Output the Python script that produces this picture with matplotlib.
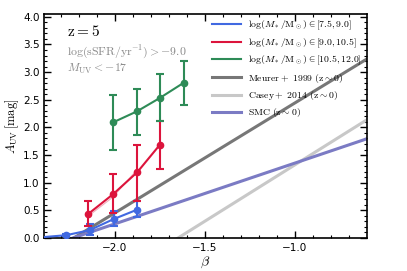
import numpy as np
import matplotlib.pyplot as plt
from matplotlib.lines import Line2D

plt.rcParams['mathtext.fontset'] = 'cm'
plt.rcParams['xtick.direction'] = 'in'
plt.rcParams['ytick.direction'] = 'in'

# binned measurements (beta, A_UV, lower err, upper err)
beta_lo = [-2.45, -2.268, -2.139, -2.006, -1.876]
auv_lo = [0.0, 0.05, 0.14, 0.34, 0.51]
elo_lo = [0.0, 0.02, 0.08, 0.13, 0.14]
ehi_lo = [0.0, 0.03, 0.11, 0.15, 0.15]

beta_mid = [-2.148, -2.009, -1.874, -1.75]
auv_mid = [0.43, 0.79, 1.19, 1.68]
elo_mid = [0.22, 0.33, 0.53, 0.43]
ehi_mid = [0.23, 0.36, 0.50, 0.44]

beta_hi = [-2.009, -1.876, -1.75, -1.615]
auv_hi = [2.09, 2.29, 2.53, 2.81]
elo_hi = [0.50, 0.43, 0.41, 0.40]
ehi_hi = [0.49, 0.41, 0.43, 0.39]

# faint secondary estimate for the middle mass bin
beta_mid2 = [-2.148, -2.009, -1.874]
auv_mid2 = [0.39, 0.74, 1.24]

labels = [r'$\log(M_*/\mathrm{M_\odot})\in[7.5,9.0]$',
          r'$\log(M_*/\mathrm{M_\odot})\in[9.0,10.5]$',
          r'$\log(M_*/\mathrm{M_\odot})\in[10.5,12.0]$',
          r'$\mathrm{Meurer+\ 1999\ (z\sim0)}$',
          r'$\mathrm{Casey+\ 2014\ (z\sim0)}$',
          r'$\mathrm{SMC\ (z\sim0)}$']
colors = ['#4169e1', '#dc143c', '#2e8b57', '#777777', '#c8c8c8', '#7b7bc4']

beta = np.linspace(-3.0, 0.0, 200)
meurer = 4.43 + 1.99 * beta
casey = 3.36 + 2.04 * beta
smc = 1.1 * (beta + 2.23)

fig = plt.figure(figsize=(4.07, 2.71), dpi=100)
ax = fig.add_axes([0.109, 0.122, 0.792, 0.826])

ax.plot(beta_mid2, auv_mid2, color=colors[1], lw=0.8, alpha=0.35)

ax.plot(beta, meurer, color=colors[3], lw=2.2)
ax.plot(beta, casey, color=colors[4], lw=2.2)
ax.plot(beta, smc, color=colors[5], lw=2.2)

for b, a, lo, hi, c in [(beta_lo, auv_lo, elo_lo, ehi_lo, colors[0]),
                        (beta_mid, auv_mid, elo_mid, ehi_mid, colors[1]),
                        (beta_hi, auv_hi, elo_hi, ehi_hi, colors[2])]:
    ax.errorbar(b, a, yerr=[lo, hi], color=c, marker='o', ms=4.5, lw=1.5,
                capsize=3, capthick=1.5, zorder=5)

ax.set_xlim(-2.39, -0.6)
ax.set_ylim(0, 4.05)
ax.set_xticks([-2.0, -1.5, -1.0])
ax.set_yticks(np.arange(0, 4.01, 0.5))
ax.set_xticks(np.arange(-2.3, -0.6, 0.1), minor=True)
ax.set_yticks(np.arange(0, 4.05, 0.1), minor=True)
ax.tick_params(which='both', top=True, right=True, labelsize=7.5)
ax.tick_params(which='major', length=5, width=1)
ax.tick_params(which='minor', length=2.5, width=0.8)
for s in ax.spines.values():
    s.set_linewidth(1.2)

ax.set_xlabel(r'$\beta$', fontsize=10, labelpad=1)
ax.set_ylabel(r'$A_{\rm UV}\,[\rm mag]$', fontsize=9, labelpad=1)

ax.text(0.07, 0.9, r'$\mathrm{z=5}$', transform=ax.transAxes, fontsize=11)
ax.text(0.07, 0.815, r'$\log(\mathrm{sSFR/yr^{-1}})>-9.0$', transform=ax.transAxes,
        fontsize=8.5, color='#888888')
ax.text(0.07, 0.74, r'$M_{\rm UV}<-17$', transform=ax.transAxes,
        fontsize=8.5, color='#888888')

handles = [Line2D([], [], color=colors[i], lw=1.5 if i < 3 else 2.2) for i in range(6)]
ax.legend(handles, labels, loc='upper left', bbox_to_anchor=(0.52, 0.98),
          frameon=False, fontsize=7, handlelength=3.0, labelspacing=0.45,
          borderaxespad=0, borderpad=0, handletextpad=0.7)

fig.savefig('out.png', dpi=100)
